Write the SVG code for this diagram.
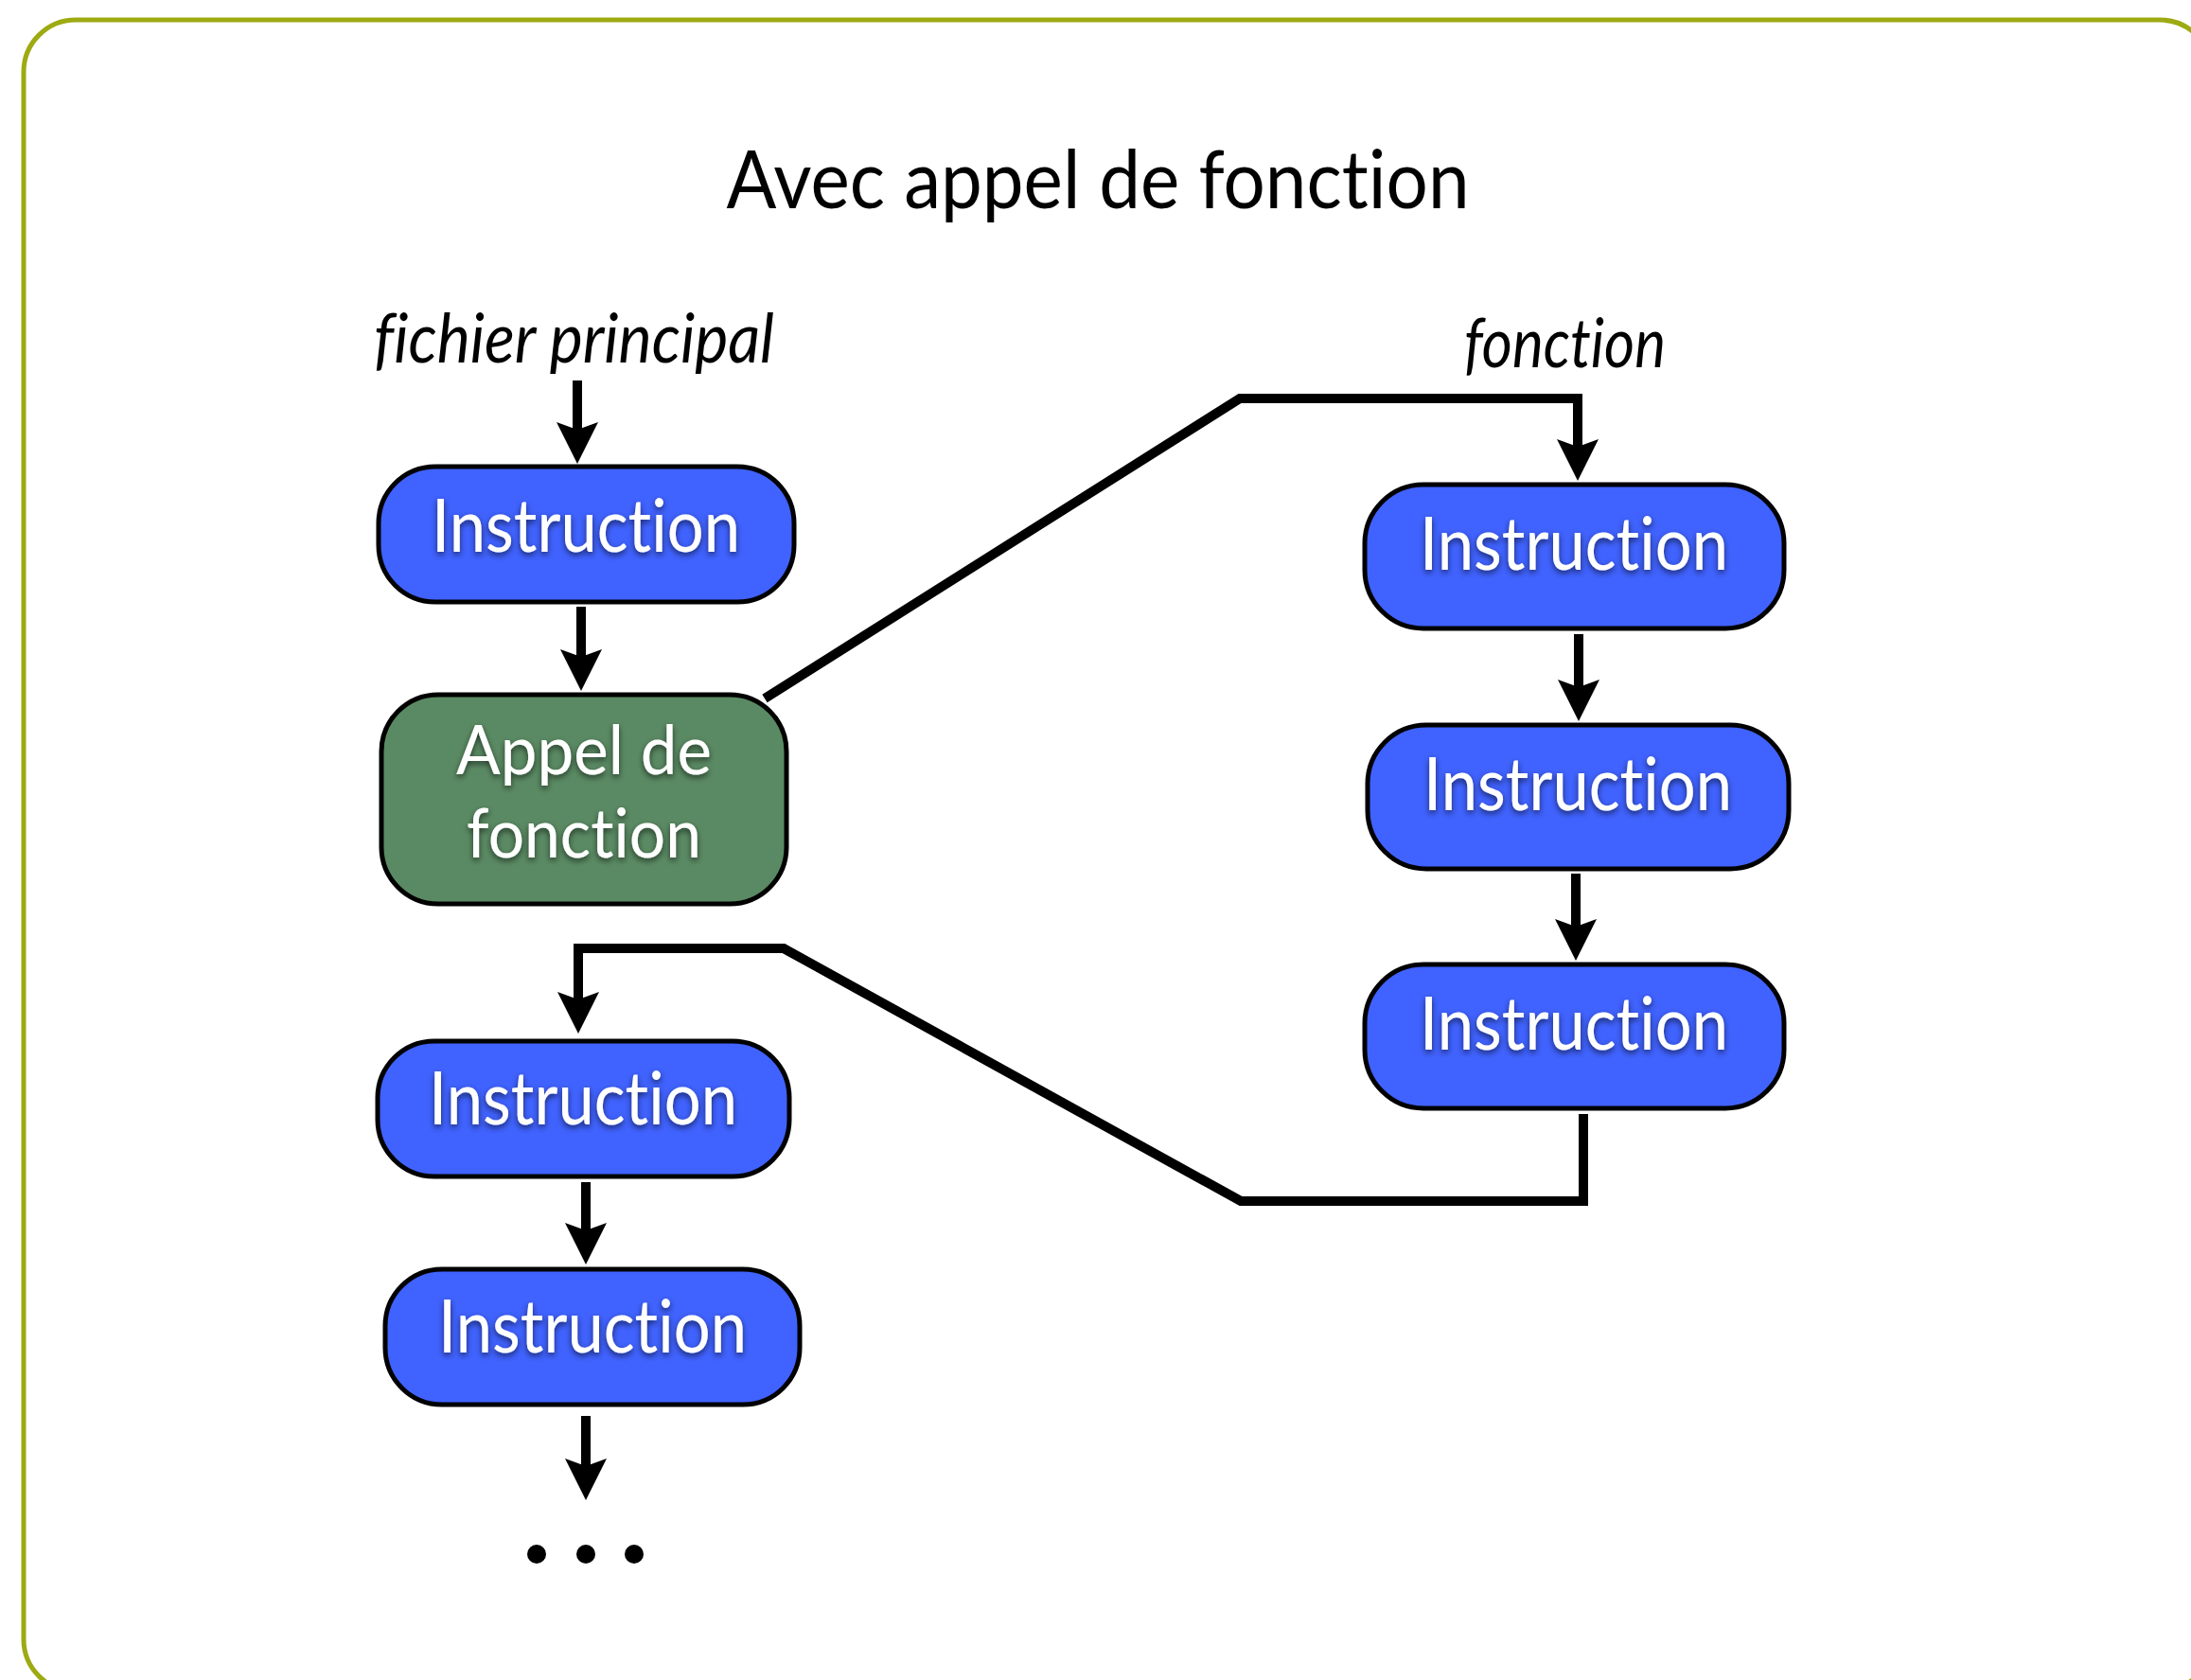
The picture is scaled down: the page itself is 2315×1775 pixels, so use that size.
<svg xmlns="http://www.w3.org/2000/svg" width="2315" height="1775" viewBox="0 0 2315 1775">
<style>
text{font-variant-ligatures:none;font-feature-settings:"liga" 0,"clig" 0}
.box{stroke:#000;stroke-width:5}
.blue{fill:#4062FE}
.green{fill:#5A8A63}
.lbl{font-family:Lato,"Open Sans",sans-serif;font-size:78px;fill:#fff;text-anchor:middle;filter:url(#sh)}
.lbl2{font-size:71px}
.conn{fill:none;stroke:#000;stroke-width:10}
.ttl{font-family:Lato,"Open Sans",sans-serif;fill:#000}
</style>
<defs>
<filter id="sh" x="-10%" y="-30%" width="120%" height="160%">
<feDropShadow dx="0" dy="3" stdDeviation="3" flood-color="#000" flood-opacity="0.6"/>
</filter>
<path id="ah" d="M0,0 L-22,-44 L0,-36 L22,-44 Z"/>
</defs>
<rect x="25" y="21" width="2312" height="1766" rx="55" fill="#fff" stroke="#9DAA12" stroke-width="5"/>
<text class="ttl" x="1160" y="220" font-size="86" text-anchor="middle" textLength="785" lengthAdjust="spacingAndGlyphs">Avec appel de fonction</text>
<text class="ttl" x="395" y="383" font-size="72" font-style="italic" textLength="423" lengthAdjust="spacingAndGlyphs">fichier principal</text>
<text class="ttl" x="1547" y="388" font-size="72" font-style="italic" textLength="213" lengthAdjust="spacingAndGlyphs">fonction</text>

<g id="connectors">
<line class="conn" x1="610" y1="402" x2="610" y2="460"/>
<use href="#ah" x="610" y="490"/>
<line class="conn" x1="614" y1="641" x2="614" y2="700"/>
<use href="#ah" x="614" y="730"/>
<polyline class="conn" points="808,738 1310,421 1667,421 1667,475"/>
<use href="#ah" x="1667" y="508"/>
<line class="conn" x1="1668" y1="670" x2="1668" y2="730"/>
<use href="#ah" x="1668" y="762"/>
<line class="conn" x1="1665" y1="923" x2="1665" y2="983"/>
<use href="#ah" x="1665" y="1015"/>
<polyline class="conn" points="1673,1177 1673,1269 1311,1269 828,1002 611,1002 611,1060"/>
<use href="#ah" x="611" y="1092"/>
<line class="conn" x1="619" y1="1249" x2="619" y2="1305"/>
<use href="#ah" x="619" y="1336"/>
<line class="conn" x1="619" y1="1496" x2="619" y2="1555"/>
<use href="#ah" x="619" y="1585"/>
</g>

<g id="n1"><rect class="box blue" x="400" y="493" width="439" height="143" rx="60"/><text class="lbl" x="619" y="583" textLength="326" lengthAdjust="spacingAndGlyphs">Instruction</text></g>
<g id="n2"><rect class="box green" x="403" y="734" width="428" height="221" rx="60"/><text class="lbl lbl2" x="617" y="818" textLength="270" lengthAdjust="spacingAndGlyphs">Appel de</text><text class="lbl lbl2" x="617" y="906" textLength="248" lengthAdjust="spacingAndGlyphs">fonction</text></g>
<g id="n3"><rect class="box blue" x="399" y="1100" width="435" height="143" rx="60"/><text class="lbl" x="616" y="1188" textLength="326" lengthAdjust="spacingAndGlyphs">Instruction</text></g>
<g id="n4"><rect class="box blue" x="407" y="1341" width="438" height="143" rx="60"/><text class="lbl" x="626" y="1429" textLength="326" lengthAdjust="spacingAndGlyphs">Instruction</text></g>
<g id="n5"><rect class="box blue" x="1442" y="512" width="443" height="152" rx="62"/><text class="lbl" x="1663" y="602" textLength="326" lengthAdjust="spacingAndGlyphs">Instruction</text></g>
<g id="n6"><rect class="box blue" x="1445" y="766" width="445" height="152" rx="62"/><text class="lbl" x="1667" y="856" textLength="326" lengthAdjust="spacingAndGlyphs">Instruction</text></g>
<g id="n7"><rect class="box blue" x="1442" y="1019" width="443" height="152" rx="62"/><text class="lbl" x="1663" y="1109" textLength="326" lengthAdjust="spacingAndGlyphs">Instruction</text></g>
<g id="dots"><circle cx="567" cy="1642" r="10"/><circle cx="619" cy="1642" r="10"/><circle cx="670" cy="1642" r="10"/></g>
</svg>
